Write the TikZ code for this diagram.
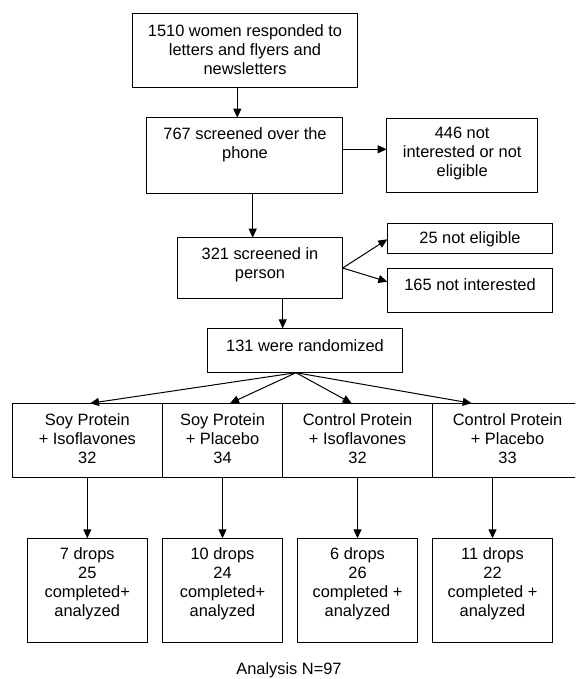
\documentclass[tikz,border=0pt]{standalone}
\usepackage{fontspec}
\setmainfont{Liberation Sans}
\usetikzlibrary{arrows.meta}
\begin{document}
\begin{tikzpicture}[x=1pt,y=-1pt,
  box/.style={draw,line width=1pt,inner sep=0pt,outer sep=0pt},
  txt/.style={align=center,inner sep=0pt,font=\fontsize{16.4}{19}\selectfont},
  arr/.style={line width=1pt,-{Triangle[length=9pt,width=8pt]}}]
\useasboundingbox (0,0) rectangle (575,679);
\clip (0,0) rectangle (575,679);
% boxes
\node[box,minimum width=225.4pt,minimum height=74pt] (b1) at (245,50.3) {};
\node[box,minimum width=196pt,minimum height=75.6pt] (b2) at (244.7,155.5) {};
\node[box,minimum width=151pt,minimum height=74.4pt] (b3) at (462.2,155.5) {};
\node[box,minimum width=165.4pt,minimum height=60.6pt] (b4) at (260,268) {};
\node[box,minimum width=165.4pt,minimum height=30pt] (b25) at (470,238.3) {};
\node[box,minimum width=165.4pt,minimum height=44.4pt] (b165) at (470,290.5) {};
\node[box,minimum width=195.4pt,minimum height=44.4pt] (b5) at (305,350.5) {};
\node[box,minimum width=150pt,minimum height=74.4pt] (r1) at (87.3,440.5) {};
\node[box,minimum width=120.4pt,minimum height=74.4pt] (r2) at (222.5,440.5) {};
\node[box,minimum width=149.6pt,minimum height=74.4pt] (r3) at (357.5,440.5) {};
\node[box,minimum width=150.4pt,minimum height=74.4pt] (r4) at (507.5,440.5) {};
\node[box,minimum width=120.2pt,minimum height=104.4pt] (d1) at (87.3,590.5) {};
\node[box,minimum width=120.4pt,minimum height=104.4pt] (d2) at (222.5,590.5) {};
\node[box,minimum width=120.4pt,minimum height=104.4pt] (d3) at (357.5,590.5) {};
\node[box,minimum width=120.4pt,minimum height=104.4pt] (d4) at (492.5,590.5) {};
% texts
\node[txt] (t1) at (245,49.5) {1510 women responded to\\letters and flyers and\\newsletters};
\node[txt] (t2) at (245,144.5) {767 screened over the\\phone};
\node[txt] (t3) at (462.2,153.3) {446 not\\interested or not\\eligible};
\node[txt] (t4) at (260,264.5) {321 screened in\\person};
\node[txt] (t25) at (470,239.5) {25 not eligible};
\node[txt] (t165) at (470,285) {165 not interested};
\node[txt] (t5) at (305,346) {131 were randomized};
\node[txt] (tr1) at (87.3,439) {Soy Protein\\+ Isoflavones\\32};
\node[txt] (tr2) at (222.5,439) {Soy Protein\\+ Placebo\\34};
\node[txt] (tr3) at (357.5,439) {Control Protein\\+ Isoflavones\\32};
\node[txt] (tr4) at (507.5,439) {Control Protein\\+ Placebo\\33};
\node[txt] (td1) at (87.3,584) {7 drops\\25\\completed+\\analyzed};
\node[txt] (td2) at (222.5,584) {10 drops\\24\\completed+\\analyzed};
\node[txt] (td3) at (357.5,584) {6 drops\\26\\completed +\\analyzed};
\node[txt] (td4) at (492.5,584) {11 drops\\22\\completed +\\analyzed};
\node[txt] (an) at (289,670) {Analysis N=97};
% connectors
\draw[arr] ([xshift=-7.7pt]b1.south) -- ([xshift=-7.7pt]b1.south |- b2.north);
\draw[arr] ([yshift=6.2pt]b2.east) -- ([yshift=6.2pt]b2.east -| b3.west);
\draw[arr] ([xshift=8pt]b2.south) -- ([xshift=8pt]b2.south |- b4.north);
\draw[arr] (b4.east) -- ([yshift=-1pt]b25.west);
\draw[arr] (b4.east) -- ([yshift=8.8pt]b165.west);
\draw[arr] ([xshift=22.7pt]b4.south) -- ([xshift=22.7pt]b4.south |- b5.north);
\coordinate (o) at ([xshift=-9pt]b5.south);
\draw[arr] (o) -- ([xshift=2.7pt]r1.north);
\draw[arr] (o) -- ([xshift=7.5pt]r2.north);
\draw[arr] (o) -- ([xshift=-5.8pt]r3.north);
\draw[arr] (o) -- ([xshift=-35.8pt]r4.north);
\draw[arr] (d1.north |- r1.south) -- (d1.north);
\draw[arr] (d2.north |- r2.south) -- (d2.north);
\draw[arr] (d3.north |- r3.south) -- (d3.north);
\draw[arr] (d4.north |- r4.south) -- (d4.north);
\end{tikzpicture}
\end{document}
